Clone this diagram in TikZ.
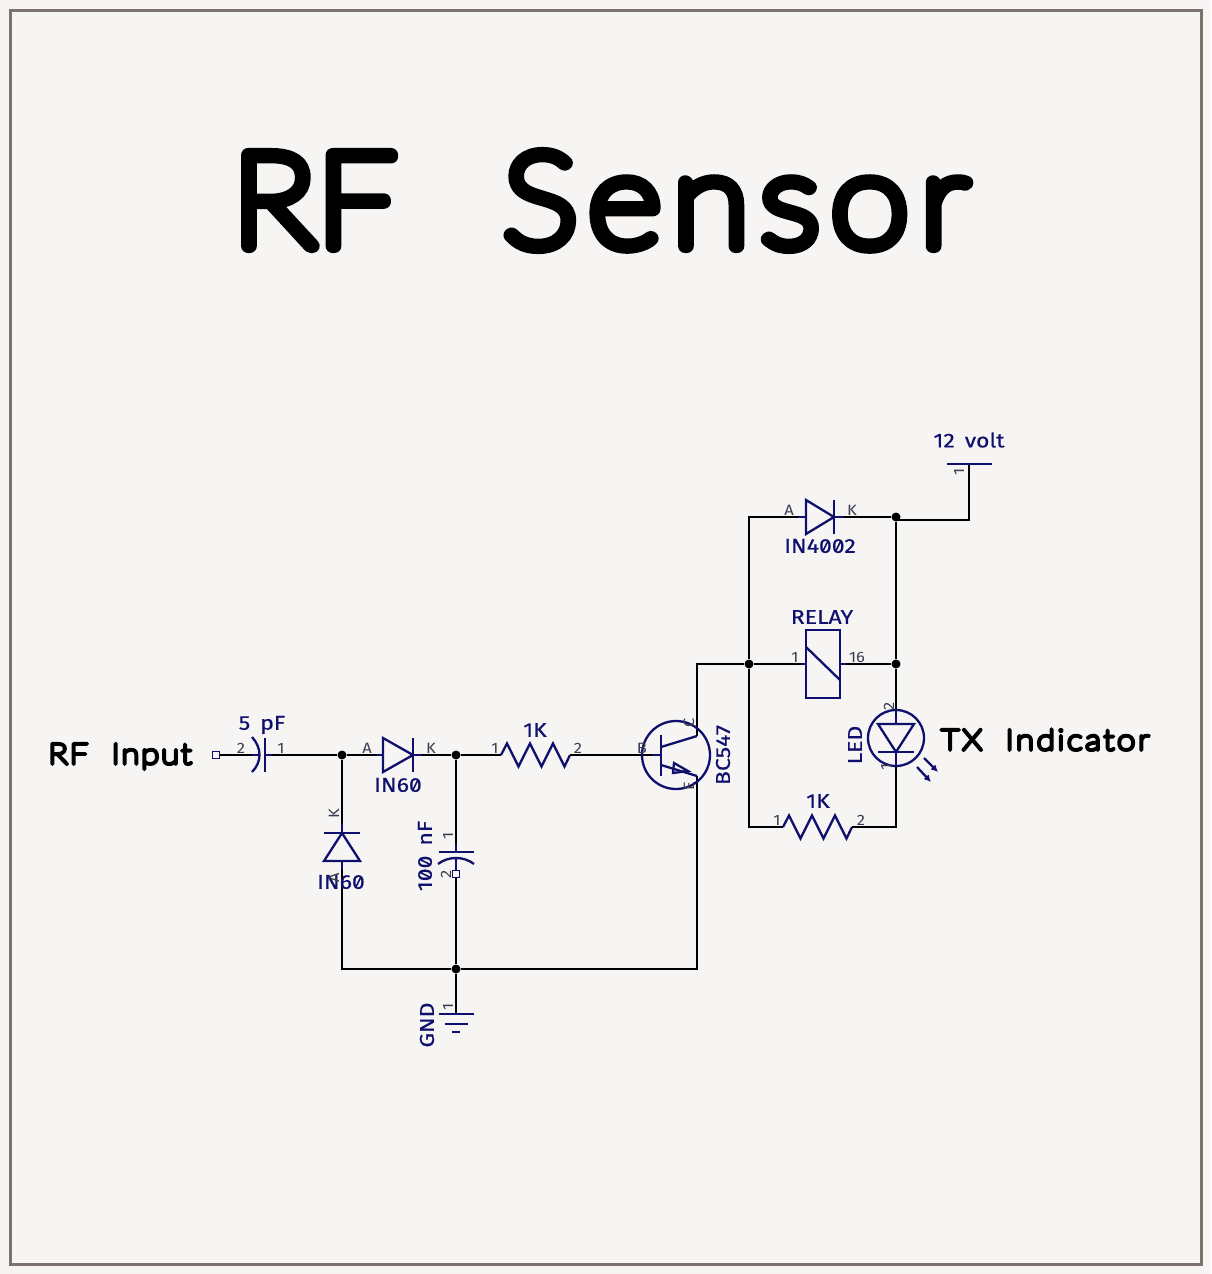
\documentclass[tikz,border=0pt]{standalone}
\usepackage{xcolor}
\usepackage{fontspec}
\usepackage{tikz}
\usetikzlibrary{arrows.meta}
\setmainfont{Liberation Sans}
\newfontfamily\penfont{Lato Hairline}
\newfontfamily\partfont[FakeStretch=1.15,FakeBold=0.5,RawFeature=+zero]{Fira Sans}
\newfontfamily\pinfont[FakeStretch=1.1]{Fira Sans}
\definecolor{SheetGrey}{RGB}{246,245,244}
\definecolor{FrameGrey}{RGB}{125,115,110}
\definecolor{PartNavy}{RGB}{15,15,110}
\definecolor{PinGrey}{RGB}{60,60,80}
% outlined text, so that the letters get round ends like a pen font
\newcommand{\pentext}[2]{\special{pdf:code 2 Tr #1 w 1 j 1 J}#2\special{pdf:code 0 Tr 1 w 0 j 0 J}}
\tikzset{
    wire/.style={draw=black,line width=1.3pt},
    part/.style={draw=PartNavy,line width=2.3pt},
    junction/.style={circle,fill=black,inner sep=0pt,minimum size=9pt},
    pad/.style={rectangle,draw=PartNavy,fill=none,line width=1pt,inner sep=0pt,minimum size=7pt},
    partlabel/.style={text=PartNavy,font=\fontsize{20}{20}\selectfont\partfont,inner sep=0pt},
    pinlabel/.style={text=PinGrey,font=\fontsize{15}{15}\selectfont\pinfont,inner sep=0pt},
    biglabel/.style={text=black,font=\fontsize{29}{29}\selectfont\penfont\addfontfeature{FakeStretch=1.15,LetterSpace=6},inner sep=0pt,anchor=base},
}

\begin{document}
\begin{tikzpicture}[x=1pt,y=-1pt]
    % Sheet and frame
    \useasboundingbox (0,0) rectangle (1211,1274);
    \fill[SheetGrey] (0,0) rectangle (1211,1274);
    \draw[draw=FrameGrey,line width=3.5pt] (10.5,10.5) rectangle (1201.5,1264.5);

    % Title and side texts
    \node[text=black,font=\fontsize{130}{130}\selectfont\penfont\addfontfeature{FakeStretch=1.1},inner sep=0pt,anchor=base] (title) at (600,246) {\pentext{14}{RF\hspace{106pt}\addfontfeature{LetterSpace=8}Sensor}};
    \node[biglabel] (rfinput) at (120,764) {\pentext{3.6}{RF\hspace{0.8em}Input}};
    \node[biglabel] (txindicator) at (1045,750) {\pentext{3.6}{\addfontfeature{LetterSpace=9}TX\hspace{0.8em}Indicator}};

    % Junctions
    \node[junction] (jin) at (342,755) {};
    \node[junction] (jmid) at (456,755) {};
    \node[junction] (jgnd) at (456,969) {};
    \node[junction] (jcoil) at (749,664) {};
    \node[junction] (jled) at (896,664) {};
    \node[junction] (jtop) at (896,517) {};

    % Pin ends
    \node[pad] (input) at (216,755) {};
    \coordinate (c1a) at (252,755);
    \coordinate (c1b) at (272,755);
    \coordinate (d1a) at (377,755);
    \coordinate (d1k) at (422,755);
    \coordinate (d2k) at (342,824);
    \coordinate (d2a) at (342,870);
    \coordinate (r1a) at (501,755);
    \coordinate (r1b) at (570,755);
    \coordinate (qb) at (652,755);
    \coordinate (qc) at (697,736);
    \coordinate (qe) at (697,776);
    \coordinate (c2a) at (456,844);
    \node[pad] (c2b) at (456,874) {};
    \coordinate (gnd) at (456,1014);
    \coordinate (d3a) at (798,517);
    \coordinate (d3k) at (844,517);
    \coordinate (kl) at (802,664);
    \coordinate (kr) at (846,664);
    \coordinate (r2a) at (783,827);
    \coordinate (r2b) at (852,827);
    \coordinate (leda) at (896,710);
    \coordinate (ledk) at (896,766);
    \coordinate (vcc) at (969,465);
    \coordinate (vcctap) at (896,520);

    % Wires
    \draw[wire] (input) -- (c1a);
    \draw[wire] (c1b) -- (jin);
    \draw[wire] (jin) -- (d1a);
    \draw[wire] (d1k) -- (jmid);
    \draw[wire] (jmid) -- (r1a);
    \draw[wire] (r1b) -- (qb);
    \draw[wire] (jin) -- (d2k);
    \draw[wire] (d2a) |- (jgnd);
    \draw[wire] (jmid) -- (c2a);
    \draw[wire] (c2b) -- (jgnd);
    \draw[wire] (jgnd) -- (gnd);
    \draw[wire] (jgnd) -| (qe);
    \draw[wire] (qc) |- (jcoil);
    \draw[wire] (jcoil) -- (kl);
    \draw[wire] (kr) -- (jled);
    \draw[wire] (jcoil) |- (d3a);
    \draw[wire] (d3k) -- (jtop);
    \draw[wire] (jcoil) |- (r2a);
    \draw[wire] (r2b) -| (ledk);
    \draw[wire] (jtop) -- (jled);
    \draw[wire] (jled) -- (leda);
    \draw[wire] (vcctap) -| (vcc);

    % Capacitors
    \draw[part] (252,737) .. controls (262,748) and (262,762) .. (252,772);
    \draw[part] (252,755) -- (260,755);
    \draw[part] (265,738) -- (265,772);
    \draw[part] (265,755) -- (272,755);
    \draw[part] (439,852) -- (474,852);
    \draw[part] (438,864) .. controls (448,856) and (464,856) .. (474,864);
    \draw[part] (c2a) -- (456,852);
    \draw[part] (456,858) -- (456,870);

    % Diodes
    \draw[part] (d1a) -- (383,755);
    \draw[part] (383,738) -- (413,755) -- (383,772) -- cycle;
    \draw[part] (413,738) -- (413,772);
    \draw[part] (413,755) -- (d1k);
    \draw[part] (d2k) -- (342,833);
    \draw[part] (324,833) -- (360,833);
    \draw[part] (342,833) -- (324,861) -- (360,861) -- cycle;
    \draw[part] (342,861) -- (d2a);
    \draw[part] (d3a) -- (806,517);
    \draw[part] (806,500) -- (834,517) -- (806,534) -- cycle;
    \draw[part] (834,500) -- (834,534);
    \draw[part] (834,517) -- (d3k);

    % Resistors
    \draw[part] (r1a) -- ++(6,-11.5) -- ++(11.5,23) -- ++(11.5,-23) -- ++(11.5,23) -- ++(11.5,-23) -- ++(11.5,23) -- (r1b);
    \draw[part] (r2a) -- ++(6,-11.5) -- ++(11.5,23) -- ++(11.5,-23) -- ++(11.5,23) -- ++(11.5,-23) -- ++(11.5,23) -- (r2b);

    % Transistor
    \draw[part] (676,755) circle (34);
    \draw[part] (qb) -- (661,755);
    \draw[part] (661,735) -- (661,776);
    \draw[part] (661,747) -- (qc);
    \draw[part] (661,765) -- (qe);
    \draw[part] (674,763) -- (688,771) -- (673,773) -- cycle;

    % Relay
    \draw[part] (806,630) rectangle (840,698);
    \draw[part] (806,647) -- (840,680);
    \draw[part] (kl) -- (806,664);
    \draw[part] (840,664) -- (kr);

    % LED
    \draw[part] (896,738) circle (28);
    \draw[part] (leda) -- (896,724);
    \draw[part] (878,724) -- (914,724) -- (896,752) -- cycle;
    \draw[part] (878,752) -- (914,752);
    \draw[part] (896,752) -- (ledk);
    \draw[part,-{Latex[length=7pt,width=7pt]}] (924,758) -- (938,772);
    \draw[part,-{Latex[length=7pt,width=7pt]}] (917,767) -- (931,782);

    % Supply and ground
    \draw[part] (947,464) -- (992,464);
    \draw[part] (439,1014) -- (474,1014);
    \draw[part] (445,1024) -- (468,1024);
    \draw[part] (452,1032) -- (460,1032);

    % Part labels
    \node[partlabel] (c1name) at (262,725) {5\hspace{0.5em}pF};
    \node[partlabel] (d1name) at (398,785) {IN60};
    \node[partlabel] (d2name) at (341,882) {IN60};
    \node[partlabel,rotate=90] (c2name) at (425,856) {100\hspace{0.5em}nF};
    \node[partlabel,rotate=90] (gndname) at (427,1025) {GND};
    \node[partlabel] (r1name) at (535,730) {1K};
    \node[partlabel] (r2name) at (818,801) {1K};
    \node[partlabel,rotate=90] (qname) at (723,755) {BC547};
    \node[partlabel,rotate=90] (ledname) at (855,745) {LED};
    \node[partlabel] (d3name) at (820,546) {IN4002};
    \node[partlabel] (kname) at (822,617) {RELAY};
    \node[partlabel] (vccname) at (969,440) {12\hspace{0.5em}volt};

    % Pin labels
    \node[pinlabel] (c1pb) at (241,748) {2};
    \node[pinlabel] (c1pa) at (281,748) {1};
    \node[pinlabel] (d1pa) at (367,748) {A};
    \node[pinlabel] (d1pk) at (431,748) {K};
    \node[pinlabel,rotate=90] (d2pk) at (334,814) {K};
    \node[pinlabel,rotate=90] (d2pa) at (334,878) {A};
    \node[pinlabel,rotate=90] (c2pa) at (448,836) {1};
    \node[pinlabel,rotate=90] (c2pb) at (446,874) {2};
    \node[pinlabel,rotate=90] (gndp) at (448,1007) {1};
    \node[pinlabel] (r1pa) at (495,748) {1};
    \node[pinlabel] (r1pb) at (578,748) {2};
    \node[pinlabel] (qpb) at (642,748) {B};
    \node[pinlabel,rotate=90] (qpc) at (689,723) {C};
    \node[pinlabel,rotate=90] (qpe) at (689,786) {E};
    \node[pinlabel] (r2pa) at (777,820) {1};
    \node[pinlabel] (r2pb) at (861,820) {2};
    \node[pinlabel] (d3pa) at (789,510) {A};
    \node[pinlabel] (d3pk) at (852,510) {K};
    \node[pinlabel] (kpa) at (795,657) {1};
    \node[pinlabel] (kpb) at (857,657) {16};
    \node[pinlabel,rotate=90] (ledpa) at (889,706) {2};
    \node[pinlabel,rotate=90] (ledpk) at (886,767) {1};
    \node[pinlabel,rotate=90] (vccp) at (959,472) {1};
\end{tikzpicture}
\end{document}
